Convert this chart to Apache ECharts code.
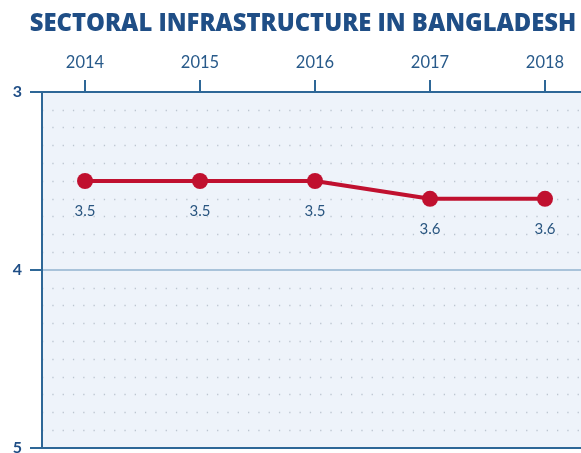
<!DOCTYPE html>
<html>
<head>
<meta charset="utf-8">
<script src="https://cdn.jsdelivr.net/npm/echarts@6/dist/echarts.min.js"></script>
<style>
  html, body { margin: 0; padding: 0; background: #ffffff; }
  #chart { width: 581px; height: 453px; }
</style>
</head>
<body>
<div id="chart"></div>
<script>
// Sectoral infrastructure score by year (lower axis values drawn higher)
const years = [2014, 2015, 2016, 2017, 2018];
const scores = [3.5, 3.5, 3.5, 3.6, 3.6];
const yTicks = [3, 4, 5];

const navy = '#1f4e86';
const axisBlue = '#2e6797';
const red = '#c0102f';
const xMin = 2013.626;
const xMax = 2018.313;

const chart = echarts.init(document.getElementById('chart'));
chart.setOption({
  backgroundColor: '#ffffff',
  title: {
    text: 'SECTORAL INFRASTRUCTURE IN BANGLADESH',
    left: 298,
    textAlign: 'center',
    top: 7,
    textStyle: { color: navy, fontFamily: 'Open Sans', fontWeight: 800, fontSize: 23.8 }
  },
  grid: {
    left: 42, right: 0, top: 92, bottom: 5,
    outerBoundsMode: 'none',
    containLabel: false,
    show: true,
    backgroundColor: '#eef3fa',
    borderWidth: 0
  },
  xAxis: [{
    type: 'value',
    position: 'top',
    min: xMin,
    max: xMax,
    splitLine: { show: false },
    axisLine: { show: true, lineStyle: { color: axisBlue, width: 2 } },
    axisTick: { show: true, length: 12, inside: false, customValues: years,
      lineStyle: { color: axisBlue, width: 2 } },
    axisLabel: {
      customValues: years,
      margin: 21,
      color: '#285a8a',
      fontFamily: 'Lato',
      fontSize: 16.5,
      formatter: v => String(v)
    }
  }, {
    // bottom frame line only
    type: 'value',
    position: 'bottom',
    min: xMin,
    max: xMax,
    splitLine: { show: false },
    axisLine: { show: true, lineStyle: { color: axisBlue, width: 2 } },
    axisTick: { show: false },
    axisLabel: { show: false }
  }],
  yAxis: {
    type: 'value',
    inverse: true,
    min: yTicks[0],
    max: yTicks[yTicks.length - 1],
    interval: 1,
    axisLine: { show: true, lineStyle: { color: axisBlue, width: 2 } },
    axisTick: { show: true, length: 12, lineStyle: { color: axisBlue, width: 2 } },
    axisLabel: { margin: 20, color: navy, fontFamily: 'Lato', fontWeight: 'bold', fontSize: 16,
      padding: [8, 0, 0, 0] },
    splitLine: { show: true, lineStyle: { color: '#a9c3da', width: 2 } },
    minorTick: { show: false, splitNumber: 10 },
    minorSplitLine: { show: true, lineStyle: { color: '#bcc5d0', width: 1.3, type: [1.3, 9] } }
  },
  series: [{
    type: 'line',
    xAxisIndex: 0,
    data: years.map((y, i) => [y, scores[i]]),
    symbol: 'circle',
    symbolSize: 16,
    lineStyle: { color: red, width: 4 },
    itemStyle: { color: red },
    label: {
      show: true,
      position: 'bottom',
      distance: 15,
      color: '#2a5680',
      fontFamily: 'Lato',
      fontSize: 15,
      formatter: p => p.value[1].toFixed(1)
    }
  }]
});
</script>
</body>
</html>
